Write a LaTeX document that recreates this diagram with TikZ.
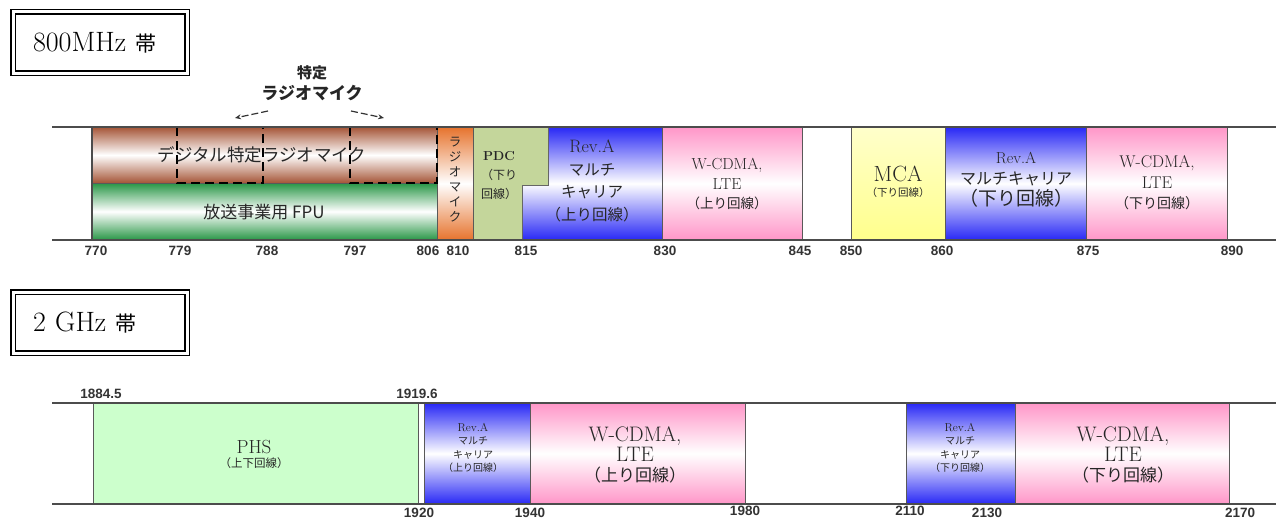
\documentclass[tikz,border=0pt]{standalone}
\usepackage{fontspec}
\newfontfamily\jp{Noto Sans CJK JP}
\newfontfamily\numfont{Liberation Sans}
\usepackage{tikz}
\usetikzlibrary{arrows.meta,positioning}

\definecolor{micbrown}{RGB}{165,85,55}
\definecolor{fpugreen}{RGB}{40,150,70}
\definecolor{micorange}{RGB}{230,115,45}
\definecolor{pdcolive}{RGB}{196,214,155}
\definecolor{revblue}{RGB}{40,40,245}
\definecolor{wcpink}{RGB}{255,150,200}
\definecolor{mcayellow}{RGB}{255,255,140}
\definecolor{phsgreen}{RGB}{204,255,204}

\begin{document}
\begin{tikzpicture}[
  x=1pt, y=-1pt, >={Stealth[length=6pt,width=5pt]},
  bandtitle/.style={draw=black, line width=1.6pt, double=white, double distance=3pt, minimum height=61pt, text width=134pt, inner xsep=20pt, align=left, font=\fontsize{28}{30}\selectfont},
  bandline/.style={line width=1.8pt, black!70},
  sepline/.style={line width=0.9pt, black!65},
  shadeband/.style={top color=#1, bottom color=#1, middle color=white},
  dashbox/.style={draw=black, line width=2pt, dash pattern=on 9pt off 5pt},
  micarrow/.style={->, line width=1.2pt, black!80, dash pattern=on 7pt off 3pt},
  bandtext/.style={align=center, inner sep=0pt, text=black!85},
  freqlabel/.style={inner sep=0pt, text=black!80, font=\numfont\bfseries\fontsize{13.5}{13.5}\selectfont}
]
\useasboundingbox (0,0) rectangle (1276,519);

% 800MHz band
\node[bandtitle] (title800) at (100,42.5) {800MHz {\jp\fontsize{21}{24}\selectfont 帯}};

\path[shadeband=micbrown] (92,127) rectangle (437,183);
\path[shadeband=fpugreen] (92,183) rectangle (437,240);
\path[shadeband=micorange] (437,127) rectangle (473,240);
\path[fill=pdcolive, draw=black!60] (473,127) -- (548,127) -- (548,185) -- (522,185) -- (522,240) -- (473,240) -- cycle;
\path[shadeband=revblue, draw=black!60] (548,127) -- (662,127) -- (662,240) -- (522,240) -- (522,185) -- (548,185) -- cycle;
\path[shadeband=wcpink] (662,127) rectangle (802,240);
\path[top color=mcayellow!45, bottom color=mcayellow] (851,127) rectangle (945,240);
\path[shadeband=revblue] (945,127) rectangle (1086,240);
\path[shadeband=wcpink] (1086,127) rectangle (1227,240);

\draw[sepline] (92,183) -- (437,183);
\foreach \x in {437,473,662,802,851,945,1086,1227}
  \draw[sepline] (\x,127) -- (\x,240);
\draw[bandline] (92,127) -- (92,240);
\draw[dashbox] (177,127) rectangle (263,183);
\draw[dashbox] (350,127) rectangle (437,183);
\draw[bandline] (52,127) -- (1276,127);
\draw[bandline] (52,240) -- (1276,240);

\node[bandtext, font=\jp\bfseries\fontsize{17}{17}\selectfont] (micname) at (312,93) {ラジオマイク};
\node[bandtext, font=\jp\bfseries\fontsize{15}{15}\selectfont, above=5pt of micname] (tokutei) {特定};
\coordinate (ltail) at (268,111);
\coordinate (lhead) at (235,118);
\coordinate (rtail) at (351,111);
\coordinate (rhead) at (384,118);
\draw[micarrow] (ltail) -- (lhead);
\draw[micarrow] (rtail) -- (rhead);

\node[bandtext, font=\jp\fontsize{17.5}{17.5}\selectfont] (digimic) at (262,155) {デジタル特定ラジオマイク};
\node[bandtext, font=\jp\fontsize{17}{17}\selectfont] (fpu) at (264,212) {放送事業用 FPU};
\node[bandtext, font=\jp\fontsize{12.5}{15}\selectfont] (vmic) at (455,180) {ラ\\ジ\\オ\\マ\\イ\\ク};
\node[bandtext, font=\jp\fontsize{12}{19}\selectfont] (pdc) at (499,176) {{\rmfamily\bfseries\fontsize{13}{19}\selectfont PDC}\\（下り\\回線）};
\node[bandtext, font=\jp\fontsize{15.5}{22.5}\selectfont] (revup) at (592,181) {{\rmfamily\fontsize{18}{22.5}\selectfont Rev.A}\\マルチ\\キャリア\\（上り回線）};
\node[bandtext, font=\fontsize{16}{19.5}\selectfont] (wcup) at (727,184) {W-CDMA,\\LTE\\{\jp\fontsize{13.5}{19.5}\selectfont （上り回線）}};
\node[bandtext, font=\jp\fontsize{10.5}{15}\selectfont] (mca) at (898,182) {{\rmfamily\fontsize{22}{15}\selectfont MCA}\\（下り回線）};
\node[bandtext, font=\jp\fontsize{16}{21}\selectfont] (revdown) at (1016,180) {{\rmfamily\fontsize{16}{21}\selectfont Rev.A}\\マルチキャリア\\{\fontsize{19}{21}\selectfont （下り回線）}};
\node[bandtext, font=\fontsize{17}{20.5}\selectfont] (wcdown) at (1157,183) {W-CDMA,\\LTE\\{\jp\fontsize{14}{20.5}\selectfont （下り回線）}};

\foreach \f/\x [count=\i] in {770/96,779/180,788/267,797/355,806/428,810/458,815/526,830/665,845/800,850/851,860/942,875/1088,890/1232}
  \node[freqlabel] (lo\i) at (\x,251) {\f};

% 2GHz band
\node[bandtitle] (title2g) at (100,322.5) {2 GHz {\jp\fontsize{21}{24}\selectfont 帯}};

\path[fill=phsgreen] (93,403) rectangle (418,504);
\path[shadeband=revblue] (424,403) rectangle (530,504);
\path[shadeband=wcpink] (530,403) rectangle (745,504);
\path[shadeband=revblue] (906,403) rectangle (1015,504);
\path[shadeband=wcpink] (1015,403) rectangle (1229,504);

\foreach \x in {93,418,424,530,745,906,1015,1229}
  \draw[sepline] (\x,403) -- (\x,504);
\draw[bandline] (52,403) -- (1276,403);
\draw[bandline] (52,504) -- (1276,504);

\node[bandtext, font=\jp\fontsize{11.5}{14}\selectfont] (phs) at (254,454) {{\rmfamily\fontsize{19}{14}\selectfont PHS}\\（上下回線）};
\node[bandtext, font=\jp\fontsize{10}{13.3}\selectfont] (revup2) at (473,448) {{\rmfamily\fontsize{11.5}{13.3}\selectfont Rev.A}\\マルチ\\キャリア\\（上り回線）};
\node[bandtext, font=\fontsize{21}{20}\selectfont] (wcup2) at (635,455) {W-CDMA,\\LTE\\{\jp\fontsize{17}{20}\selectfont （上り回線）}};
\node[bandtext, font=\jp\fontsize{10}{13.3}\selectfont] (revdown2) at (960,448) {{\rmfamily\fontsize{11.5}{13.3}\selectfont Rev.A}\\マルチ\\キャリア\\（下り回線）};
\node[bandtext, font=\fontsize{21}{20}\selectfont] (wcdown2) at (1123,455) {W-CDMA,\\LTE\\{\jp\fontsize{17}{20}\selectfont （下り回線）}};

\foreach \f/\x/\y [count=\i] in {1884.5/101/394,1919.6/417/394,1920/419/513,1940/530/513,1980/745/511,2110/910/511,2130/987/513,2170/1240/513}
  \node[freqlabel] (hi\i) at (\x,\y) {\f};

\end{tikzpicture}
\end{document}
